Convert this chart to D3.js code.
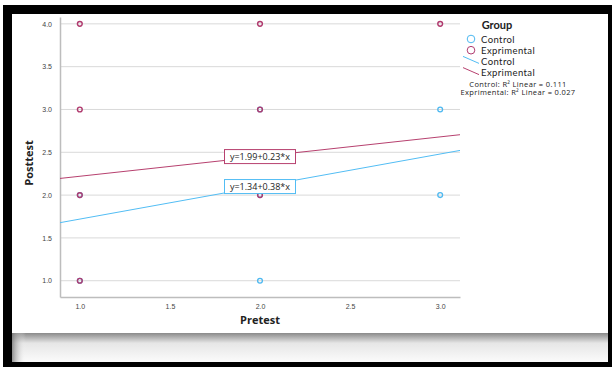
<!DOCTYPE html>
<html>
<head>
<meta charset="utf-8">
<script src="https://cdn.jsdelivr.net/npm/d3@7"></script>
<style>
  body { margin: 0; background: #fff; }
  svg { display: block; font-family: "Open Sans", "DejaVu Sans", sans-serif; }
  .legend text { font-family: Lato, "Open Sans", sans-serif; }
  .legend text.r2 { font-family: "Open Sans", sans-serif; }
</style>
</head>
<body>
<svg id="chart" width="612" height="367"></svg>
<script>
// pretest / posttest scores
var experimental = [{x:1,y:4},{x:1,y:3},{x:1,y:2},{x:1,y:1},{x:2,y:4},{x:2,y:3},{x:2,y:2},{x:3,y:4}];
var control = [{x:1,y:2},{x:1,y:1},{x:2,y:3},{x:2,y:2},{x:2,y:1},{x:3,y:3},{x:3,y:2}];

var fits = [
  {name:"Exprimental", a:1.99, b:0.23, label:"y=1.99+0.23*x", color:"#b7416f"},
  {name:"Control", a:1.34, b:0.38, label:"y=1.34+0.38*x", color:"#52bdf4"}
];
var xTicks = [1.0, 1.5, 2.0, 2.5, 3.0];
var yTicks = [1.0, 1.5, 2.0, 2.5, 3.0, 3.5, 4.0];
var r2Labels = ["Control: R\u00b2 Linear = 0.111", "Exprimental: R\u00b2 Linear = 0.027"];

var svg = d3.select("#chart");

// frame around the screenshot
svg.append("rect").attr("x", 3).attr("y", 5).attr("width", 609).attr("height", 362).attr("fill", "#000");
svg.append("rect").attr("x", 12).attr("y", 14).attr("width", 596).attr("height", 348).attr("fill", "#fff");

var defs = svg.append("defs");
var gv = defs.append("linearGradient").attr("id", "shadeV").attr("x1", 0).attr("y1", 0).attr("x2", 0).attr("y2", 1);
gv.append("stop").attr("offset", "0%").attr("stop-color", "#8a8a8a");
gv.append("stop").attr("offset", "35%").attr("stop-color", "#e6e6e6");
gv.append("stop").attr("offset", "100%").attr("stop-color", "#fbfbfb");
var gh = defs.append("linearGradient").attr("id", "shadeH").attr("x1", 0).attr("y1", 0).attr("x2", 1).attr("y2", 0);
gh.append("stop").attr("offset", "0%").attr("stop-color", "#777").attr("stop-opacity", 0.8);
gh.append("stop").attr("offset", "100%").attr("stop-color", "#fff").attr("stop-opacity", 0);
svg.append("rect").attr("x", 12).attr("y", 333).attr("width", 596).attr("height", 29).attr("fill", "url(#shadeV)");
svg.append("rect").attr("x", 12).attr("y", 333).attr("width", 14).attr("height", 29).attr("fill", "url(#shadeH)");

var plotL = 60, plotR = 460, plotT = 17, plotB = 297;
var x = d3.scaleLinear().domain([0.89, 3.11]).range([plotL, plotR]);
var y = d3.scaleLinear().domain([0.81, 4.08]).range([plotB, plotT]);

// grid
svg.append("g").selectAll("line").data(yTicks).enter().append("line")
  .attr("x1", plotL).attr("x2", plotR)
  .attr("y1", function(d) { return y(d); }).attr("y2", function(d) { return y(d); })
  .attr("stroke", "#d9d9d9").attr("stroke-width", 1);

// axes
var yAxis = svg.append("g").attr("transform", "translate(" + plotL + ",0)")
  .call(d3.axisLeft(y).tickValues(yTicks).tickFormat(d3.format(".1f")).tickSize(0).tickPadding(8));
var xAxis = svg.append("g").attr("transform", "translate(0," + plotB + ")")
  .call(d3.axisBottom(x).tickValues(xTicks).tickFormat(d3.format(".1f")).tickSize(0).tickPadding(7));
[xAxis, yAxis].forEach(function(g) {
  g.select(".domain").attr("stroke", "#bdbdbd").attr("stroke-width", 1.5);
  g.selectAll("text").attr("fill", "#444").style("font-size", "7px");
});

svg.append("text").attr("x", 260).attr("y", 324).attr("text-anchor", "middle")
  .style("font-size", "11px").style("font-weight", "bold").attr("fill", "#222").text("Pretest");
svg.append("text").attr("transform", "translate(33,163) rotate(-90)").attr("text-anchor", "middle")
  .style("font-size", "11px").style("font-weight", "bold").attr("fill", "#222").text("Posttest");

// fit lines
fits.forEach(function(f) {
  var xs = x.domain();
  svg.append("line")
    .attr("x1", x(xs[0])).attr("y1", y(f.a + f.b * xs[0]))
    .attr("x2", x(xs[1])).attr("y2", y(f.a + f.b * xs[1]))
    .attr("stroke", f.color).attr("stroke-width", 1);
});

// points
svg.append("g").selectAll("circle").data(control).enter().append("circle")
  .attr("cx", function(d) { return x(d.x); }).attr("cy", function(d) { return y(d.y); })
  .attr("r", 2.4).attr("fill", "none").attr("stroke", "#4db8f0").attr("stroke-width", 1.3);
svg.append("g").selectAll("circle").data(experimental).enter().append("circle")
  .attr("cx", function(d) { return x(d.x); }).attr("cy", function(d) { return y(d.y); })
  .attr("r", 2.4).attr("fill", "none").attr("stroke", "#b03a6e").attr("stroke-width", 1.4);

// equation labels on the lines at x = 2
fits.forEach(function(f) {
  var cx = x(2), cy = y(f.a + f.b * 2);
  svg.append("rect").attr("x", cx - 35.5).attr("y", cy - 7).attr("width", 71).attr("height", 14)
    .attr("fill", "#fff").attr("stroke", f.color).attr("stroke-width", 1);
  svg.append("text").attr("x", cx).attr("y", cy + 3.3).attr("text-anchor", "middle")
    .style("font-size", "9px").attr("fill", "#222").text(f.label);
});

// legend
var lg = svg.append("g").attr("class", "legend");
lg.append("text").attr("x", 497).attr("y", 29).attr("text-anchor", "middle")
  .style("font-size", "11px").style("font-weight", "bold").attr("fill", "#222").text("Group");
var markers = [{name:"Control", color:"#4db8f0"}, {name:"Exprimental", color:"#b03a6e"}];
markers.forEach(function(m, i) {
  var yy = 39 + i * 11.2;
  lg.append("circle").attr("cx", 471).attr("cy", yy).attr("r", 3.8)
    .attr("fill", "none").attr("stroke", m.color).attr("stroke-width", 1);
  lg.append("text").attr("x", 481).attr("y", yy + 3.5).style("font-size", "9.5px")
    .style("letter-spacing", "0.4px").attr("fill", "#222").text(m.name);
});
fits.slice().reverse().forEach(function(f, i) {
  var yy = 61.4 + i * 11.2;
  lg.append("line").attr("x1", 463).attr("y1", yy - 5).attr("x2", 479).attr("y2", yy + 2)
    .attr("stroke", f.color).attr("stroke-width", 1);
  lg.append("text").attr("x", 481).attr("y", yy + 3.5).style("font-size", "9.5px")
    .style("letter-spacing", "0.4px").attr("fill", "#222").text(f.name);
});
r2Labels.forEach(function(t, i) {
  lg.append("text").attr("class", "r2").attr("x", 518).attr("y", 86.5 + i * 8.5).attr("text-anchor", "middle")
    .style("font-size", "7.5px").style("letter-spacing", "0.35px").attr("fill", "#222").text(t);
});
</script>
</body>
</html>
